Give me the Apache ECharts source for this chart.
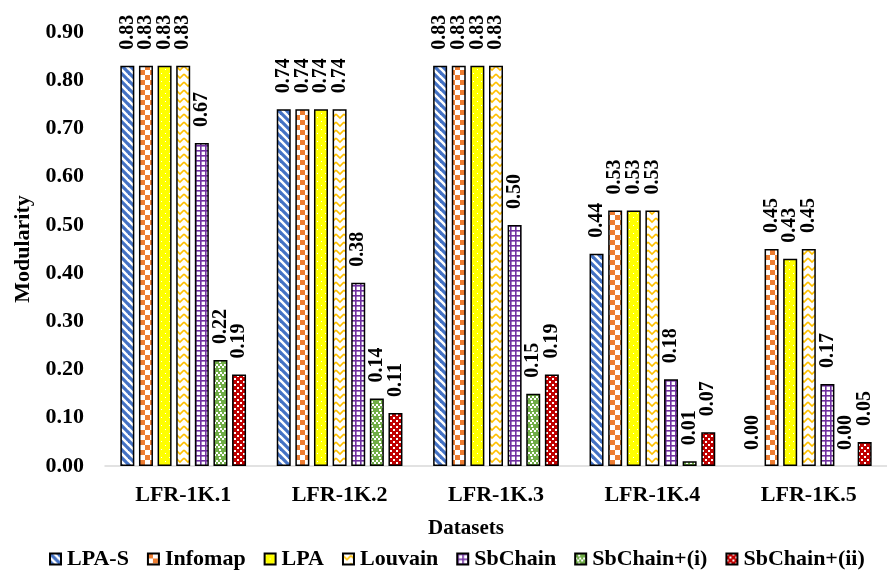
<!DOCTYPE html>
<html>
<head>
<meta charset="utf-8">
<script src="https://cdn.jsdelivr.net/npm/echarts@6/dist/echarts.min.js"></script>
<style>
  html, body { margin: 0; padding: 0; background: #fff; }
  #chart { width: 887px; height: 575px; }
</style>
</head>
<body>
<div id="chart"></div>
<script>
// Modularity scores per dataset and algorithm
const categories = ['LFR-1K.1', 'LFR-1K.2', 'LFR-1K.3', 'LFR-1K.4', 'LFR-1K.5'];
const seriesNames = ['LPA-S', 'Infomap', 'LPA', 'Louvain', 'SbChain', 'SbChain+(i)', 'SbChain+(ii)'];
const lpaS       = [0.83, 0.74, 0.83, 0.44, 0.00];
const infomap    = [0.83, 0.74, 0.83, 0.53, 0.45];
const lpa        = [0.83, 0.74, 0.83, 0.53, 0.43];
const louvain    = [0.83, 0.74, 0.83, 0.53, 0.45];
const sbChain    = [0.67, 0.38, 0.50, 0.18, 0.17];
const sbChainI   = [0.22, 0.14, 0.15, 0.01, 0.00];
const sbChainII  = [0.19, 0.11, 0.19, 0.07, 0.05];
const yTicks = [0, 0.1, 0.2, 0.3, 0.4, 0.5, 0.6, 0.7, 0.8, 0.9];

const FONT = '"Liberation Serif", "Times New Roman", serif';

function tile(w, h, draw) {
  const c = document.createElement('canvas');
  c.width = w; c.height = h;
  const ctx = c.getContext('2d');
  draw(ctx, w, h);
  return c;
}

// Hatch fills for each algorithm
const fills = [
  // blue diagonal stripes
  tile(8, 8, (ctx) => {
    ctx.fillStyle = '#fff'; ctx.fillRect(0, 0, 8, 8);
    ctx.strokeStyle = '#4472C4'; ctx.lineWidth = 3.2;
    for (const k of [-8, 0, 8]) {
      ctx.beginPath(); ctx.moveTo(k - 1, -1); ctx.lineTo(k + 9, 9); ctx.stroke();
    }
  }),
  // orange checkerboard
  tile(10, 10, (ctx) => {
    ctx.fillStyle = '#fff'; ctx.fillRect(0, 0, 10, 10);
    ctx.fillStyle = '#ED7D31';
    ctx.fillRect(0, 0, 5, 5); ctx.fillRect(5, 5, 5, 5);
  }),
  // yellow with white dots
  tile(8, 8, (ctx) => {
    ctx.fillStyle = '#FFFF00'; ctx.fillRect(0, 0, 8, 8);
    ctx.fillStyle = '#fff';
    ctx.fillRect(1, 1, 1, 1); ctx.fillRect(5, 5, 1, 1);
  }),
  // gold chevrons on white
  tile(8, 8, (ctx) => {
    ctx.fillStyle = '#fff'; ctx.fillRect(0, 0, 8, 8);
    ctx.strokeStyle = '#FFC000'; ctx.lineWidth = 1.6;
    ctx.beginPath(); ctx.moveTo(0, 2); ctx.lineTo(4, 6); ctx.lineTo(8, 2); ctx.stroke();
  }),
  // purple grid
  tile(5, 5, (ctx) => {
    ctx.fillStyle = '#fff'; ctx.fillRect(0, 0, 5, 5);
    ctx.fillStyle = '#7030A0';
    ctx.fillRect(0, 0, 5, 1); ctx.fillRect(0, 0, 1, 5);
    ctx.fillStyle = 'rgba(112,48,160,0.6)';
    ctx.fillRect(0, 1, 5, 1); ctx.fillRect(1, 1, 1, 4);
  }),
  // green trellis
  tile(8, 8, (ctx) => {
    ctx.fillStyle = '#70AD47'; ctx.fillRect(0, 0, 8, 8);
    ctx.fillStyle = '#fff';
    ctx.fillRect(3, 1, 2, 2);
    ctx.fillRect(0, 4, 2, 2); ctx.fillRect(4, 4, 2, 2);
    ctx.fillRect(2, 6, 2, 2); ctx.fillRect(6, 6, 2, 2);
  }),
  // red small checker
  tile(6, 6, (ctx) => {
    ctx.fillStyle = '#C00000'; ctx.fillRect(0, 0, 6, 6);
    ctx.fillStyle = '#fff';
    ctx.fillRect(0, 0, 2, 2); ctx.fillRect(3, 3, 2, 2);
  })
];

const valueSets = [lpaS, infomap, lpa, louvain, sbChain, sbChainI, sbChainII];

const series = seriesNames.map((name, i) => ({
  name: name,
  type: 'bar',
  barWidth: 14,
  barGap: '33%',
  itemStyle: {
    color: { image: fills[i], repeat: 'repeat' },
    borderColor: '#000',
    borderWidth: 1.5
  },
  label: {
    show: true,
    position: 'top',
    rotate: 90,
    align: 'left',
    verticalAlign: 'middle',
    distance: 16,
    formatter: (p) => p.value.toFixed(2),
    fontFamily: FONT,
    fontWeight: 'bold',
    fontSize: 20,
    color: '#000'
  },
  // empty bars keep their value label but draw no outline
  data: valueSets[i].map(v => v === 0
    ? { value: v, itemStyle: { borderWidth: 0, borderColor: 'transparent', color: 'transparent' } }
    : v)
}));

const chart = echarts.init(document.getElementById('chart'));
chart.setOption({
  animation: false,
  backgroundColor: '#fff',
  grid: { left: 105, top: 32, width: 800, height: 434, containLabel: false },
  legend: {
    data: seriesNames,
    bottom: 5,
    left: 49,
    width: 838,
    padding: 0,
    icon: 'rect',
    itemWidth: 11,
    itemHeight: 11,
    itemGap: 18,
    textStyle: { fontFamily: FONT, fontWeight: 'bold', fontSize: 22, color: '#000', padding: [0, 0, 0, 1] }
  },
  xAxis: {
    type: 'category',
    data: categories,
    name: 'Datasets',
    nameLocation: 'middle',
    nameGap: 52,
    nameTextStyle: { fontFamily: FONT, fontWeight: 'bold', fontSize: 21, color: '#000', padding: [0, 0, 0, -60] },
    axisLine: { lineStyle: { color: '#D9D9D9', width: 1.5 } },
    axisTick: { show: false },
    axisLabel: { fontFamily: FONT, fontWeight: 'bold', fontSize: 22, color: '#000', margin: 18 }
  },
  yAxis: {
    type: 'value',
    min: yTicks[0],
    max: yTicks[yTicks.length - 1],
    interval: 0.1,
    name: 'Modularity',
    nameLocation: 'middle',
    nameGap: 70,
    nameTextStyle: { fontFamily: FONT, fontWeight: 'bold', fontSize: 22, color: '#000' },
    axisLine: { show: false },
    axisTick: { show: false },
    splitLine: { show: false },
    axisLabel: {
      fontFamily: FONT, fontWeight: 'bold', fontSize: 22, color: '#000', margin: 21,
      formatter: (v) => v.toFixed(2)
    }
  },
  series: series
});
</script>
</body>
</html>
